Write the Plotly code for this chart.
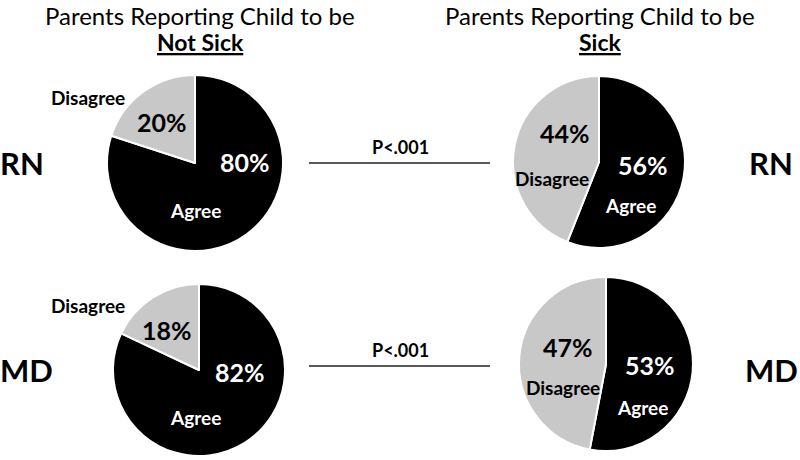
import plotly.graph_objects as go

W, H = 800, 460

# ---- data ----
responses = ["Agree", "Disagree"]
rn_not_sick = [80, 20]
rn_sick = [56, 44]
md_not_sick = [82, 18]
md_sick = [53, 47]
column_titles = ["Not Sick", "Sick"]
row_labels = ["RN", "MD"]
p_values = ["P<.001", "P<.001"]

colors = ["#000000", "#c8c8c8"]
FONT = "Lato"

def px(x, y):
    return x / W, 1 - y / H

def dom(cx, cy, r):
    return dict(x=[(cx - r) / W, (cx + r) / W], y=[1 - (cy + r) / H, 1 - (cy - r) / H])

fig = go.Figure()

pies = [
    (rn_not_sick, (195, 163, 88)),
    (rn_sick, (599, 162, 86)),
    (md_not_sick, (199, 370, 86)),
    (md_sick, (606, 364, 87)),
]
for vals, (cx, cy, r) in pies:
    fig.add_trace(go.Pie(
        labels=responses, values=vals, sort=False, direction="clockwise", rotation=0,
        marker=dict(colors=colors, line=dict(color="white", width=2)),
        textinfo="none", domain=dom(cx, cy, r), showlegend=False,
    ))

ann = []
def text(x, y, s, size, color="black", bold=True, anchor="center", yanchor="middle"):
    xx, yy = px(x, y)
    ann.append(dict(x=xx, y=yy, xref="paper", yref="paper", showarrow=False,
                    text=f"<b>{s}</b>" if bold else s,
                    font=dict(family=FONT, size=size, color=color),
                    xanchor=anchor, yanchor=yanchor, borderpad=0))

# titles
for cx, t in zip([200, 600], column_titles):
    text(cx, 0, "Parents Reporting Child to be", 24, bold=False, yanchor="top")
    text(cx, 42, f"<u>{t}</u>", 23)

# row labels
for y, lab in zip([163, 370], row_labels):
    text(-1, y, lab, 31, anchor="left")
    text(771, y, lab, 31)

# p-values
for y, p in zip([147, 350], p_values):
    text(400, y, p, 18)
    fig.add_shape(type="line", xref="paper", yref="paper",
                  x0=309 / W, x1=490 / W, y0=1 - (y + 16) / H, y1=1 - (y + 16) / H,
                  line=dict(color="#222222", width=1.3))

PCT, LAB = 25, 19
# RN not sick
text(245, 162, f"{rn_not_sick[0]}%", PCT, "white")
text(195, 210, responses[0], LAB, "white")
text(162, 122, f"{rn_not_sick[1]}%", PCT)
text(88, 97, responses[1], LAB)
# RN sick
text(643, 165, f"{rn_sick[0]}%", PCT, "white")
text(630, 205, responses[0], LAB, "white")
text(565, 133, f"{rn_sick[1]}%", PCT)
text(552, 178, responses[1], LAB)
# MD not sick
text(240, 372, f"{md_not_sick[0]}%", PCT, "white")
text(195, 417, responses[0], LAB, "white")
text(167, 330, f"{md_not_sick[1]}%", PCT)
text(88, 305, responses[1], LAB)
# MD sick
text(650, 365, f"{md_sick[0]}%", PCT, "white")
text(642, 407, responses[0], LAB, "white")
text(568, 347, f"{md_sick[1]}%", PCT)
text(563, 387, responses[1], LAB)

fig.update_layout(
    width=W, height=H, margin=dict(l=0, r=0, t=0, b=0),
    paper_bgcolor="white", plot_bgcolor="white",
    annotations=ann, showlegend=False,
)
fig.write_html("out.html", config={"displayModeBar": False},
               post_script="document.body.style.margin='0';document.body.style.overflow='hidden';")
